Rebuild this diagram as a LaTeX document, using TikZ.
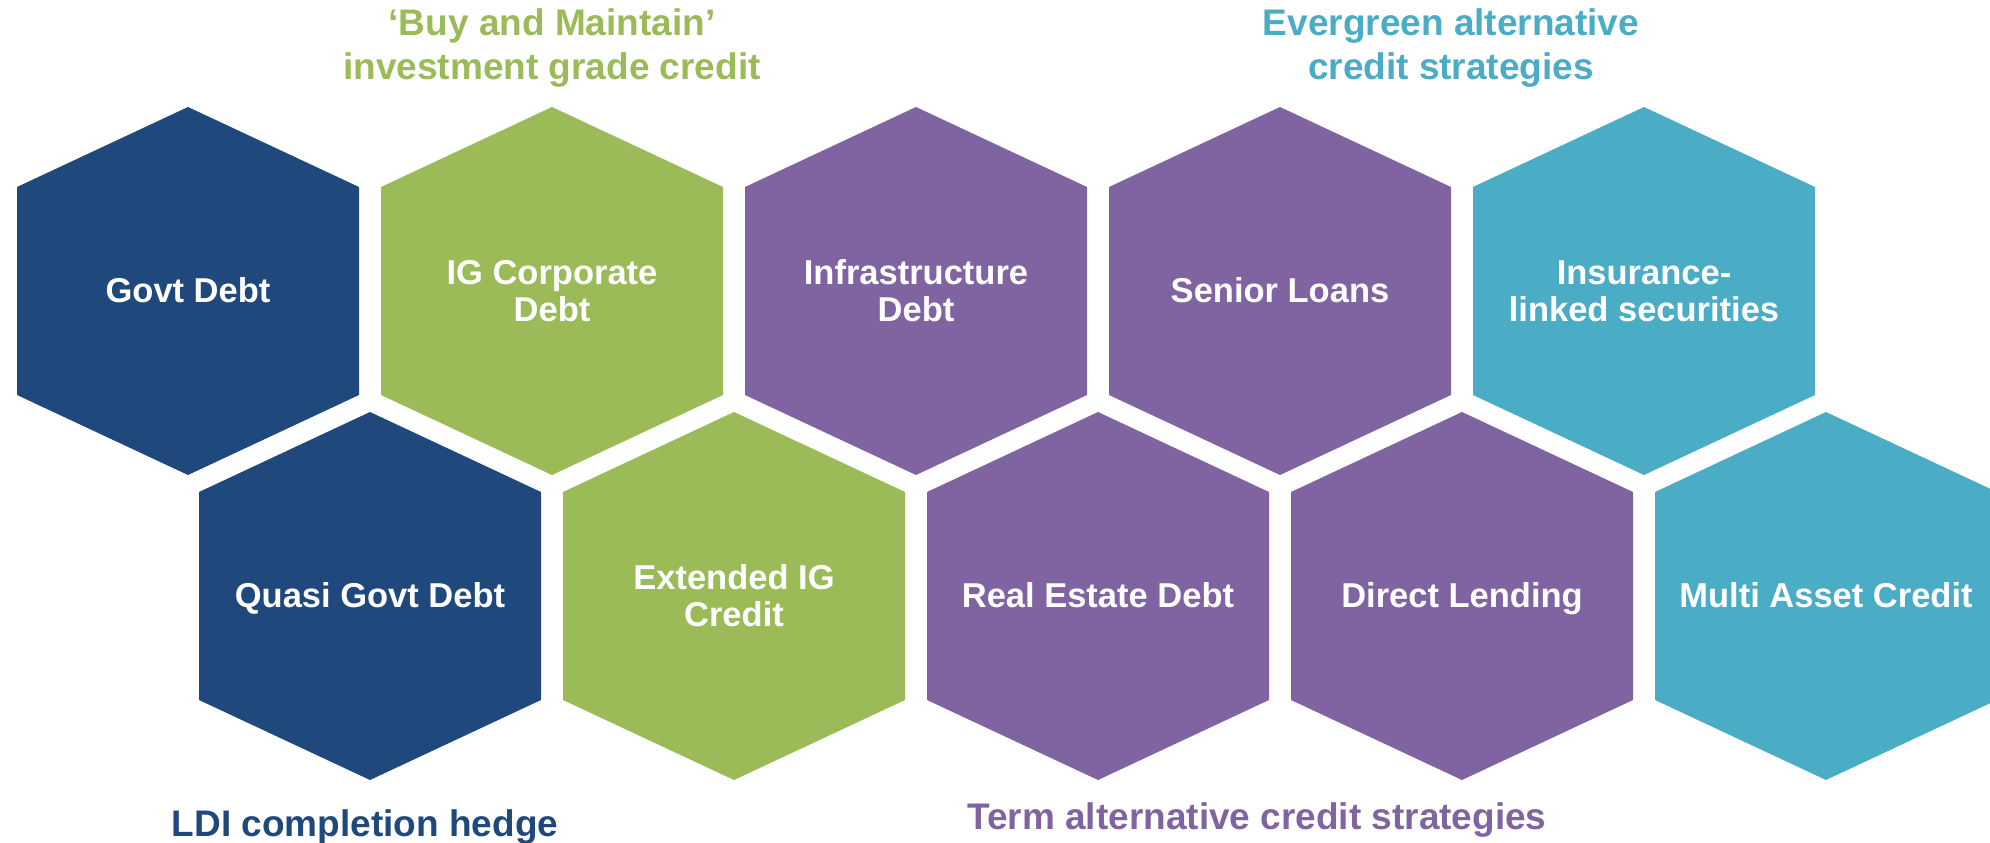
\documentclass[tikz,border=0pt]{standalone}
\usepackage{fontspec}
\setmainfont{Liberation Sans}
\definecolor{navyc}{HTML}{1F497D}
\definecolor{greenc}{HTML}{9BBB59}
\definecolor{purplec}{HTML}{8064A2}
\definecolor{tealc}{HTML}{4BACC6}
\begin{document}
\begin{tikzpicture}[x=1pt,y=-1pt,
  hexcell/.pic={\fill[#1] (-171,-104) -- (0,-184) -- (171,-104) -- (171,104) -- (0,184) -- (-171,104) -- cycle;},
  celltext/.style={text=white, font=\bfseries\fontsize{34.5}{37}\selectfont, align=center, inner sep=0pt},
  oneline/.style={text height=24pt, text depth=0pt},
  grouptitle/.style={font=\bfseries\fontsize{37}{44}\selectfont, align=center, inner sep=0pt}]
\clip (0,0) rectangle (1990,843);

% upper row of cells
\pic at (188,291)  {hexcell=navyc};
\pic at (552,291)  {hexcell=greenc};
\pic at (916,291)  {hexcell=purplec};
\pic at (1280,291) {hexcell=purplec};
\pic at (1644,291) {hexcell=tealc};
% lower row of cells
\pic at (370,596)  {hexcell=navyc};
\pic at (734,596)  {hexcell=greenc};
\pic at (1098,596) {hexcell=purplec};
\pic at (1462,596) {hexcell=purplec};
\pic at (1826,596) {hexcell=tealc};

% cell labels
\node[celltext, oneline] (govt)   at (188,290)  {Govt Debt};
\node[celltext] (igcorp) at (552,291)  {IG Corporate\\Debt};
\node[celltext] (infra)  at (916,291)  {Infrastructure\\Debt};
\node[celltext, oneline] (senior) at (1280,290) {Senior Loans};
\node[celltext] (ils)    at (1644,291) {Insurance-\\linked securities};
\node[celltext, oneline] (quasi)  at (370,595)  {Quasi Govt Debt};
\node[celltext] (extig)  at (734,596)  {Extended IG\\Credit};
\node[celltext, oneline] (red)    at (1098,595) {Real Estate Debt};
\node[celltext, oneline] (direct) at (1462,595) {Direct Lending};
\node[celltext, oneline] (mac)    at (1826,595) {Multi Asset Credit};

% group titles
\node[grouptitle, text=greenc] (bm)   at (552,48)  {‘Buy and Maintain’\\investment grade credit};
\node[grouptitle, text=tealc]  (ever) at (1451,48) {Evergreen alternative\\credit strategies};
\node[grouptitle, text=navyc, anchor=base]   (ldi)  at (365,836)  {LDI completion hedge};
\node[grouptitle, text=purplec, anchor=base] (term) at (1257,829) {Term alternative credit strategies};
\end{tikzpicture}
\end{document}
